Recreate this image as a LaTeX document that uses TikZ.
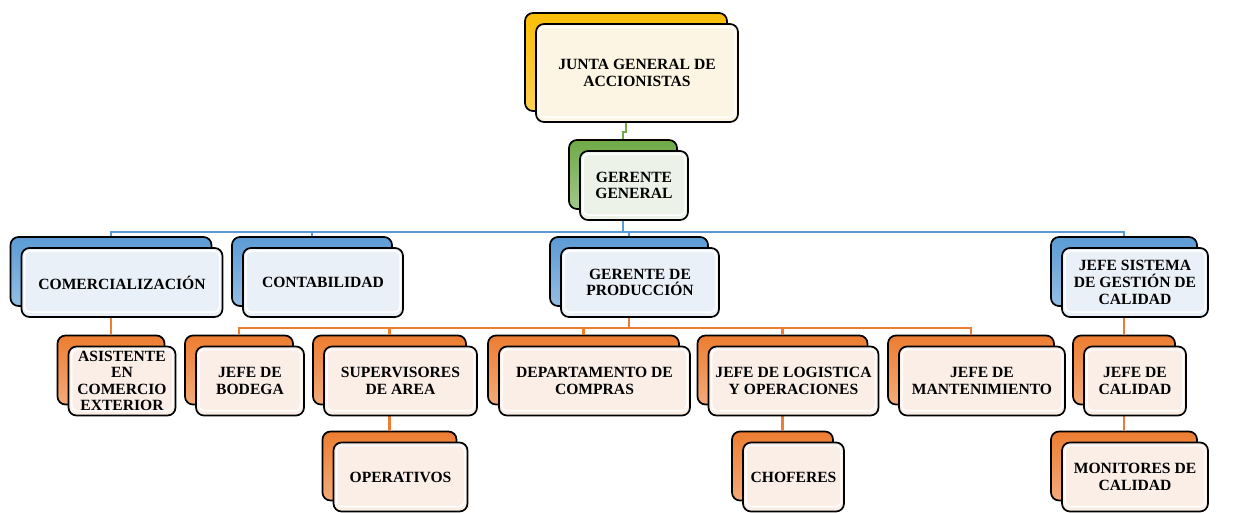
\documentclass[tikz,border=0pt]{standalone}
\usepackage{fontspec}
\setmainfont{Liberation Serif}
\usepackage{tikz}

\definecolor{goldC}{HTML}{F9BE08}
\definecolor{greenC}{HTML}{6FAA47}
\definecolor{blueC}{HTML}{5B9BD5}
\definecolor{orangeC}{HTML}{ED7D31}
\definecolor{goldF}{HTML}{FDF5E3}
\definecolor{greenF}{HTML}{ECF2E8}
\definecolor{blueF}{HTML}{EAF0F8}
\definecolor{orangeF}{HTML}{FAEEE7}

\begin{document}
\begin{tikzpicture}[x=1pt, y=-1pt,
  box/.style={draw=black, line width=1.7pt, rounded corners=8pt, minimum height=69pt, inner sep=0pt},
  back gold/.style={box, top color=goldC, bottom color=goldC!70!white},
  back green/.style={box, top color=greenC, bottom color=greenC!65!white},
  back blue/.style={box, top color=blueC, bottom color=blueC!65!white},
  back orange/.style={box, top color=orangeC, bottom color=orangeC!65!white},
  front/.style={box, shift={(11,11)}, align=center, font=\bfseries\fontsize{15.6}{16.6}\selectfont,
    path picture={\draw[white, line width=1.5pt, rounded corners=5pt]
      ([xshift=3pt,yshift=-3pt]path picture bounding box.north west) rectangle
      ([xshift=-3pt,yshift=5pt]path picture bounding box.south east);}},
  front gold/.style={front, fill=goldF},
  front green/.style={front, fill=greenF},
  front blue/.style={front, fill=blueF},
  front orange/.style={front, fill=orangeF},
  link/.style={line width=2.6pt}
]
\useasboundingbox (0,0) rectangle (1242,512);

% back plates
\node[back gold, minimum width=202pt, minimum height=98pt] at (626,62) (junta-b) {};
\node[back green, minimum width=108pt] at (623,174.5) (gg-b) {};
\node[back blue, minimum width=201pt] at (111,271.5) (com-b) {};
\node[back blue, minimum width=160pt] at (312,271.5) (cont-b) {};
\node[back blue, minimum width=158pt] at (629,271.5) (gdp-b) {};
\node[back blue, minimum width=146pt] at (1124,271.5) (jsgc-b) {};
\node[back orange, minimum width=107pt] at (111,370) (asist-b) {};
\node[back orange, minimum width=108pt] at (239,370) (bodega-b) {};
\node[back orange, minimum width=153pt] at (389.5,370) (superv-b) {};
\node[back orange, minimum width=191pt] at (583.5,370) (depto-b) {};
\node[back orange, minimum width=170pt] at (782.5,370) (logist-b) {};
\node[back orange, minimum width=166pt] at (971,370) (mant-b) {};
\node[back orange, minimum width=102pt] at (1124,370) (jcal-b) {};
\node[back orange, minimum width=134pt] at (389.5,466) (oper-b) {};
\node[back orange, minimum width=101pt] at (782.5,466) (chof-b) {};
\node[back orange, minimum width=146pt] at (1124,466) (monit-b) {};

% connectors
\draw[link, greenC, line width=2pt] (junta-b.south) -- ++(0,20) -| (gg-b.north);
\foreach \c in {com,cont,gdp,jsgc}
  \draw[link, blueC] (gg-b.south) -- ++(0,22) -| (\c-b.north);
\foreach \c in {bodega,superv,depto,logist,mant}
  \draw[link, orangeC] (gdp-b.south) -- ++(0,21) -| (\c-b.north);
\draw[link, orangeC] (com-b.south) -- (asist-b.north);
\draw[link, orangeC] (superv-b.south) -- (oper-b.north);
\draw[link, orangeC] (logist-b.south) -- (chof-b.north);
\draw[link, orangeC] (jsgc-b.south) -- (jcal-b.north);
\draw[link, orangeC] (jcal-b.south) -- (monit-b.north);

% front plates with the texts
\node[front gold, minimum width=202pt, minimum height=98pt] at (junta-b) (junta) {JUNTA GENERAL DE\\ACCIONISTAS};
\node[front green, minimum width=108pt] at (gg-b) (gg) {GERENTE\\GENERAL};
\node[front blue, minimum width=201pt] at (com-b) (com) {COMERCIALIZACIÓN};
\node[front blue, minimum width=160pt] at (cont-b) (cont) {CONTABILIDAD};
\node[front blue, minimum width=158pt] at (gdp-b) (gdp) {GERENTE DE\\PRODUCCIÓN};
\node[front blue, minimum width=146pt] at (jsgc-b) (jsgc) {JEFE SISTEMA\\DE GESTIÓN DE\\CALIDAD};
\node[front orange, minimum width=107pt] at (asist-b) (asist) {ASISTENTE\\EN\\COMERCIO\\EXTERIOR};
\node[front orange, minimum width=108pt] at (bodega-b) (bodega) {JEFE DE\\BODEGA};
\node[front orange, minimum width=153pt] at (superv-b) (superv) {SUPERVISORES\\DE AREA};
\node[front orange, minimum width=191pt] at (depto-b) (depto) {DEPARTAMENTO DE\\COMPRAS};
\node[front orange, minimum width=170pt] at (logist-b) (logist) {JEFE DE LOGISTICA\\Y OPERACIONES};
\node[front orange, minimum width=166pt] at (mant-b) (mant) {JEFE DE\\MANTENIMIENTO};
\node[front orange, minimum width=102pt] at (jcal-b) (jcal) {JEFE DE\\CALIDAD};
\node[front orange, minimum width=134pt] at (oper-b) (oper) {OPERATIVOS};
\node[front orange, minimum width=101pt] at (chof-b) (chof) {CHOFERES};
\node[front orange, minimum width=146pt] at (monit-b) (monit) {MONITORES DE\\CALIDAD};
\end{tikzpicture}
\end{document}
